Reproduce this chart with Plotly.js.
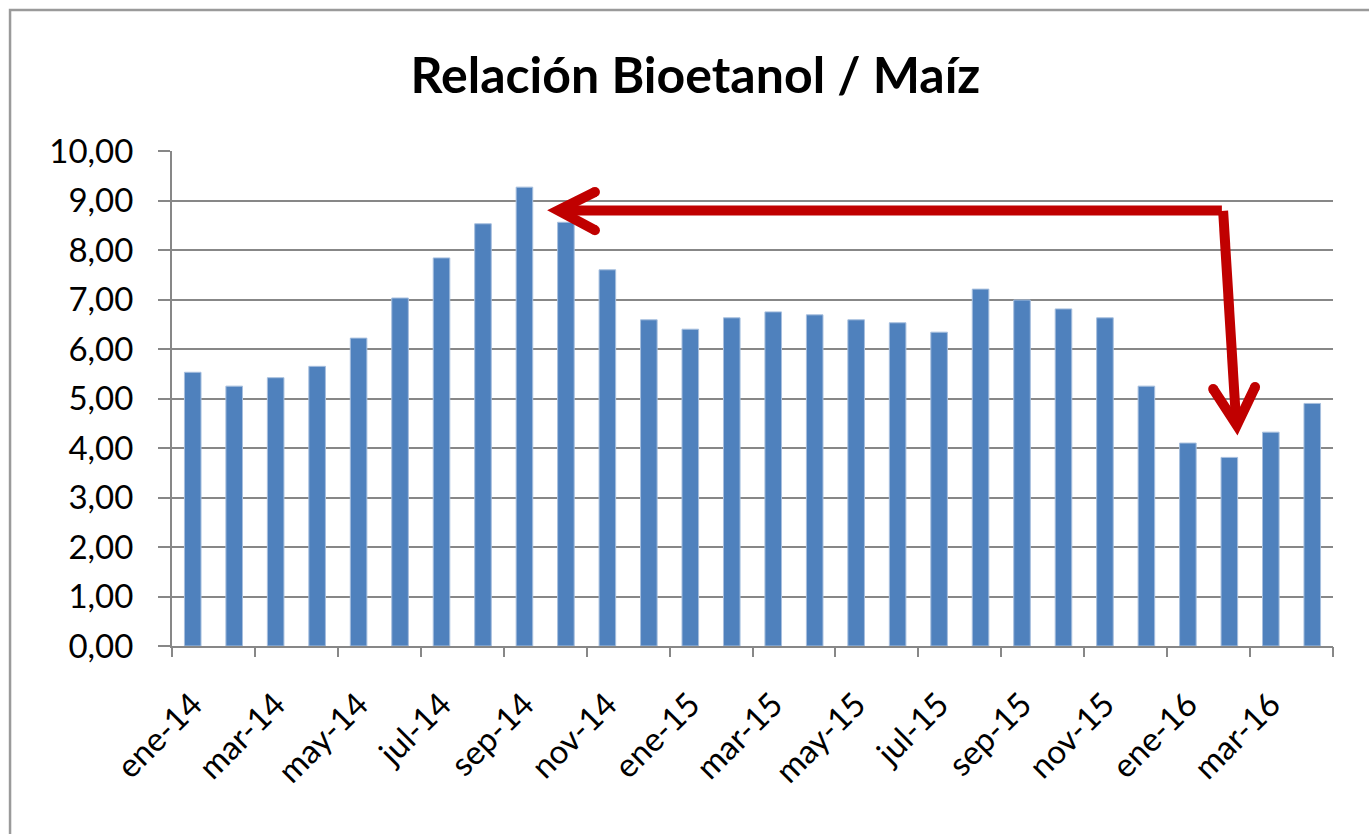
<!DOCTYPE html>
<html>
<head>
<meta charset="utf-8">
<script src="https://cdn.plot.ly/plotly-3.0.1.min.js"></script>
<style>
  html, body { margin: 0; padding: 0; background: #ffffff; }
  #chart { width: 1369px; height: 834px; }
</style>
</head>
<body>
<div id="chart"></div>
<script>
// ---- Data ----
const months = [
  'ene-14','feb-14','mar-14','abr-14','may-14','jun-14','jul-14','ago-14','sep-14','oct-14','nov-14','dic-14',
  'ene-15','feb-15','mar-15','abr-15','may-15','jun-15','jul-15','ago-15','sep-15','oct-15','nov-15','dic-15',
  'ene-16','feb-16','mar-16','abr-16'
];
const ratio = [
  5.53, 5.25, 5.42, 5.65, 6.22, 7.03, 7.84, 8.53, 9.27, 8.56, 7.60, 6.59,
  6.40, 6.63, 6.75, 6.69, 6.59, 6.53, 6.34, 7.21, 6.99, 6.81, 6.63, 5.25,
  4.10, 3.81, 4.32, 4.90
];
const tickLabels = ['ene-14','mar-14','may-14','jul-14','sep-14','nov-14','ene-15',
                    'mar-15','may-15','jul-15','sep-15','nov-15','ene-16','mar-16'];
const boundaryTicks = [-0.5, 1.5, 3.5, 5.5, 7.5, 9.5, 11.5, 13.5, 15.5, 17.5, 19.5, 21.5, 23.5, 25.5, 27.5];
const yTicks = [0,1,2,3,4,5,6,7,8,9,10];

const FONT = 'Lato, "Open Sans", "Liberation Sans", sans-serif';
const AXIS = '#878787';
const RED = '#C00000';

const traces = [
  {
    type: 'bar',
    x: months,
    y: ratio,
    marker: { color: '#4F81BD', line: { color: '#A7BFDE', width: 1 } },
    hoverinfo: 'x+y',
    showlegend: false
  },
  {
    // invisible helper so the boundary-tick axis is created
    type: 'scatter',
    x: [boundaryTicks[0], boundaryTicks[boundaryTicks.length - 1]],
    y: [0, 0],
    mode: 'none',
    xaxis: 'x2',
    hoverinfo: 'skip',
    showlegend: false
  }
];

function capCircle(cx, cy, r) {
  return {
    type: 'circle', xref: 'x2', yref: 'y',
    xsizemode: 'pixel', ysizemode: 'pixel',
    xanchor: cx, yanchor: cy,
    x0: -r, x1: r, y0: -r, y1: r,
    fillcolor: RED, line: { width: 0 }
  };
}

const shapes = [
  // outer chart border
  { type: 'rect', xref: 'paper', yref: 'paper',
    x0: -0.1395, x1: 1.05, y0: -0.40, y1: 1.285,
    line: { color: '#9a9a9a', width: 2.5 }, fillcolor: 'rgba(0,0,0,0)', layer: 'below' },
  // horizontal arrow line
  { type: 'line', xref: 'x2', yref: 'y', x0: 8.81, x1: 24.82, y0: 8.80, y1: 8.80,
    line: { color: RED, width: 10 } },
  // vertical (slanted) arrow line
  { type: 'line', xref: 'x2', yref: 'y', x0: 24.85, x1: 25.16, y0: 8.79, y1: 4.57,
    line: { color: RED, width: 10 } },
  // left chevron head
  { type: 'path', xref: 'x2', yref: 'y',
    path: 'M 9.70 9.17 L 8.81 8.80 L 9.70 8.40',
    line: { color: RED, width: 10 }, fillcolor: 'rgba(0,0,0,0)' },
  // down chevron head
  { type: 'path', xref: 'x2', yref: 'y',
    path: 'M 24.61 5.19 L 25.18 4.46 L 25.62 5.23',
    line: { color: RED, width: 10 }, fillcolor: 'rgba(0,0,0,0)' },
  capCircle(9.70, 9.17, 5),
  capCircle(9.70, 8.40, 5),
  capCircle(24.61, 5.19, 5),
  capCircle(25.62, 5.23, 5)
];

const layout = {
  width: 1369,
  height: 834,
  paper_bgcolor: '#ffffff',
  plot_bgcolor: '#ffffff',
  separators: ',.',
  margin: { l: 172, r: 36, t: 151, b: 188, pad: 0 },
  font: { family: FONT, color: '#000000', size: 33 },
  title: {
    text: '<b>Relación Bioetanol / Maíz</b>',
    font: { family: FONT, size: 50, color: '#000000' },
    x: 0.508, xanchor: 'center',
    y: 0.91, yanchor: 'middle'
  },
  bargap: 0.6,
  xaxis: {
    type: 'category',
    categoryorder: 'array',
    categoryarray: months,
    range: [-0.5, 27.5],
    tickmode: 'array',
    tickvals: tickLabels,
    ticktext: tickLabels,
    tickangle: -45,
    ticks: '',
    ticklabelstandoff: 24,
    tickfont: { family: FONT, size: 33, color: '#000000' },
    showgrid: false,
    zeroline: false,
    showline: true,
    linecolor: AXIS,
    linewidth: 2,
    fixedrange: true
  },
  xaxis2: {
    type: 'linear',
    overlaying: 'x',
    anchor: 'y',
    side: 'bottom',
    range: [-0.5, 27.5],
    tickmode: 'array',
    tickvals: boundaryTicks,
    ticks: 'outside',
    ticklen: 10,
    tickwidth: 2,
    tickcolor: AXIS,
    showticklabels: false,
    showgrid: false,
    zeroline: false,
    showline: false,
    fixedrange: true
  },
  yaxis: {
    range: [0, 10],
    tickmode: 'array',
    tickvals: yTicks,
    tickformat: '.2f',
    ticks: 'outside',
    ticklen: 12,
    tickwidth: 2,
    tickcolor: AXIS,
    ticklabelstandoff: 18,
    tickfont: { family: FONT, size: 33, color: '#000000' },
    showgrid: true,
    gridcolor: AXIS,
    gridwidth: 2,
    zeroline: false,
    showline: true,
    linecolor: AXIS,
    linewidth: 2,
    fixedrange: true
  },
  shapes: shapes
};

Plotly.newPlot('chart', traces, layout, { displayModeBar: false, staticPlot: true });
</script>
</body>
</html>
